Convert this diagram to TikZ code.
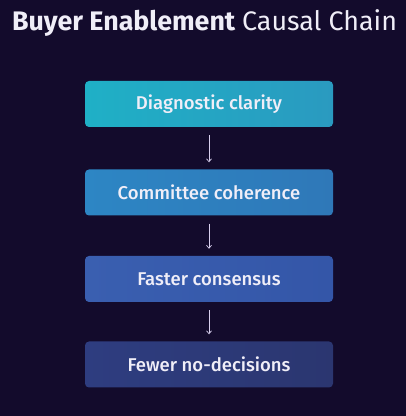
\documentclass[tikz,border=0pt]{standalone}
\usepackage{fontspec}
\setmainfont{Fira Sans}[UprightFont=* Medium, BoldFont=* Bold]
\newfontfamily\regfont{Fira Sans}
\usetikzlibrary{arrows.meta}
\definecolor{bg}{HTML}{130B2C}
\definecolor{aL}{HTML}{1FB0C6}\definecolor{aR}{HTML}{2A9AC0}
\definecolor{bL}{HTML}{2D86C4}\definecolor{bR}{HTML}{2F78B8}
\definecolor{cL}{HTML}{3A5FB0}\definecolor{cR}{HTML}{3456A8}
\definecolor{dL}{HTML}{2E3D80}\definecolor{dR}{HTML}{2B3670}
\definecolor{arr}{HTML}{D8D0EE}
\definecolor{txt}{HTML}{F0EEF8}
\begin{document}
\begin{tikzpicture}[x=1pt,y=1pt,
  stepbox/.style={rounded corners=4pt, minimum width=248pt, minimum height=46pt,
    inner sep=0pt, text=txt, font=\fontsize{18.5}{22}\selectfont},
  flow/.style={draw=arr, line width=0.7pt, -{Straight Barb[length=3pt,width=5pt]}}]
\fill[bg] (0,0) rectangle (406,416);
\useasboundingbox (0,0) rectangle (406,416);
\node[text=txt, font=\fontsize{26.8}{30}\selectfont] (title) at (204.5,393)
  {\textbf{Buyer Enablement} {\regfont Causal Chain}};
\node[stepbox, left color=aL, right color=aR] (s1) at (209,312) {Diagnostic clarity};
\node[stepbox, left color=bL, right color=bR] (s2) at (209,223.5) {Committee coherence};
\node[stepbox, left color=cL, right color=cR] (s3) at (209,137) {Faster consensus};
\node[stepbox, left color=dL, right color=dR] (s4) at (209,51.5) {Fewer no-decisions};
\draw[flow] ([yshift=-8pt]s1.south) -- ([yshift=7pt]s2.north);
\draw[flow] ([yshift=-8pt]s2.south) -- ([yshift=7pt]s3.north);
\draw[flow] ([yshift=-8pt]s3.south) -- ([yshift=7pt]s4.north);
\end{tikzpicture}
\end{document}
